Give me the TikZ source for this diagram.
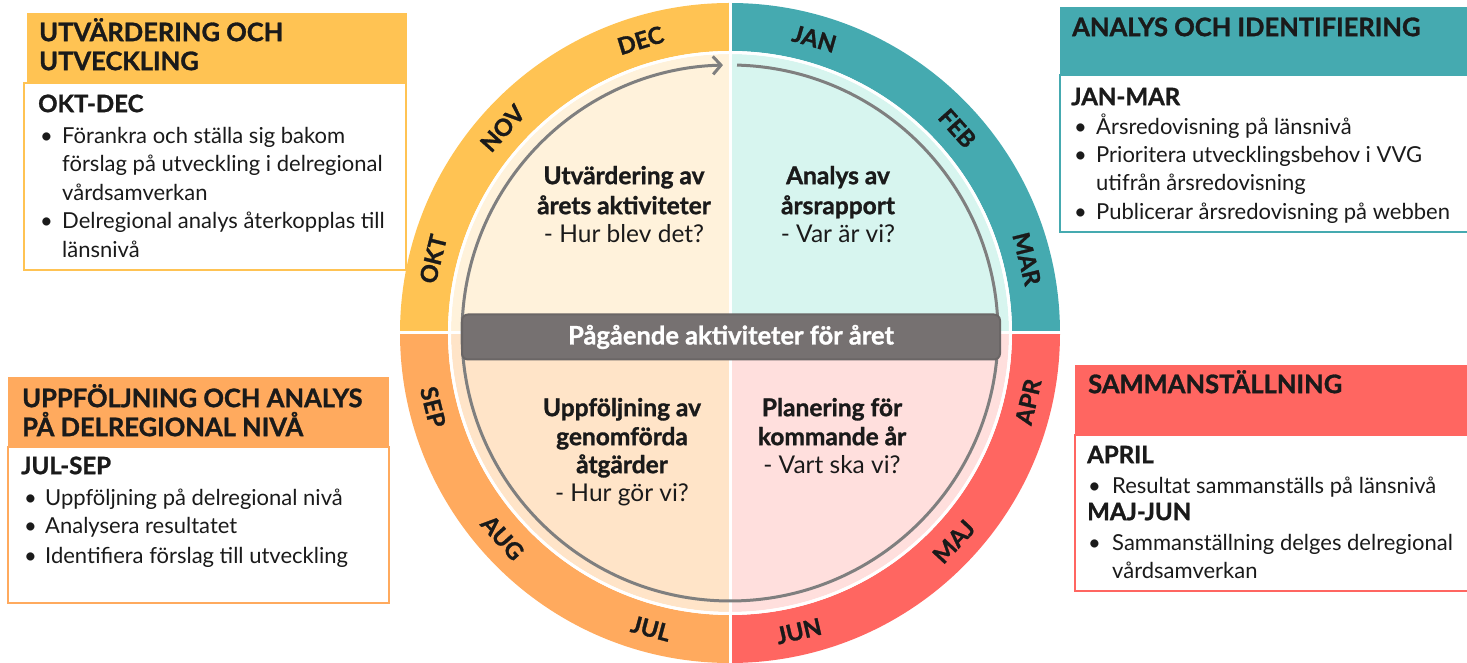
\documentclass[tikz,border=0pt]{standalone}
\usepackage{fontspec}
\setmainfont{Lato}
\newfontfamily\heavy{Lato}[BoldFeatures={FakeBold=1.2}]
\usetikzlibrary{arrows.meta,calc}
\definecolor{cYel}{HTML}{FFC353}
\definecolor{cTeal}{HTML}{45AAB0}
\definecolor{cRed}{HTML}{FF6661}
\definecolor{cOra}{HTML}{FFAA5E}
\definecolor{lYel}{HTML}{FFF2DB}
\definecolor{lTeal}{HTML}{D7F5EF}
\definecolor{lRed}{HTML}{FFDFDD}
\definecolor{lOra}{HTML}{FFE4C8}
\definecolor{cBar}{HTML}{767171}
\definecolor{cBarD}{HTML}{6A6666}
\definecolor{cArc}{HTML}{7F7F7F}
\definecolor{txt}{HTML}{1A1A1A}
\begin{document}
\begin{tikzpicture}[x=1pt,y=1pt,
  hd/.style={anchor=west,inner sep=0pt,yshift=-5pt,text=txt,font=\fontsize{25.5}{30}\heavy\bfseries,text height=1.5ex,text depth=0.25ex},
  sub/.style={anchor=west,inner sep=0pt,yshift=-5pt,text=txt,font=\fontsize{24}{28}\heavy\bfseries,text height=1.5ex,text depth=0.25ex},
  bt/.style={anchor=west,inner sep=0pt,yshift=-5pt,text=txt,font=\fontsize{22}{26}\selectfont,text height=1.5ex,text depth=0.25ex},
  qb/.style={inner sep=0pt,yshift=-5pt,text=txt,font=\fontsize{24.5}{29}\heavy\bfseries,text height=1.5ex,text depth=0.25ex},
  qr/.style={inner sep=0pt,yshift=-5pt,text=txt,font=\fontsize{24.5}{29}\selectfont,text height=1.5ex,text depth=0.25ex},
  month/.style={inner sep=0pt,text=txt,font=\fontsize{23.5}{28}\heavy\bfseries},
  bar/.style={fill=cBar,draw=cBarD,line width=2pt,rounded corners=6pt,minimum width=538pt,minimum height=45pt,text=white,font=\fontsize{25.5}{30}\heavy\bfseries},
  boxline/.style={line width=1.5pt}
]
\useasboundingbox (0,0) rectangle (1467,663);
\coordinate (C) at (730,330);

% outer ring
\foreach \a/\c in {90/cYel,0/cTeal,-90/cRed,180/cOra}{
  \fill[\c] ($(C)+(\a:330)$) arc[start angle=\a,end angle=\a+90,radius=330]
     -- ($(C)+({\a+90}:282)$) arc[start angle=\a+90,end angle=\a,radius=282] -- cycle;
}
% inner disk
\foreach \a/\c in {90/lYel,0/lTeal,-90/lRed,180/lOra}{
  \fill[\c] (C) -- ($(C)+(\a:279)$) arc[start angle=\a,end angle=\a+90,radius=279] -- cycle;
}
\draw[white,line width=3pt] (C) circle[radius=280.5];
\draw[white,line width=3pt] ($(C)+(0,-332)$) -- ($(C)+(0,332)$);
\draw[white,line width=3pt] ($(C)+(-332,0)$) -- ($(C)+(332,0)$);

% cycle arrow
\draw[cArc,line width=3pt,-{Straight Barb[length=8pt,width=18pt]}]
  ($(C)+(88.5:268)$) arc[start angle=88.5,end angle=-268.5,radius=268];

% bar
\node[bar] (bar) at (731,326) {Pågående aktiviteter för året};

% months
\foreach \n/\a in {JAN/74,FEB/42,MAR/14,OKT/166,NOV/138,DEC/107}{
  \node[month,rotate=\a-90] (m\n) at ($(C)+(\a:306)$) {\n};
}
\foreach \n/\a in {APR/-13,MAJ/-43,JUN/-77,JUL/-105,AUG/-138,SEP/-166}{
  \node[month,rotate=\a+90] (m\n) at ($(C)+(\a:306)$) {\n};
}

% quadrant texts
\node[qb] (q1a) at (624,487) {Utvärdering av};
\node[qb] (q1b) at (624,457) {årets aktiviteter};
\node[qr] (q1c) at (624,429) {- Hur blev det?};
\node[qb] (q2a) at (838,487) {Analys av};
\node[qb] (q2b) at (838,457) {årsrapport};
\node[qr] (q2c) at (838,429) {- Var är vi?};
\node[qb] (q3a) at (622,255) {Uppföljning av};
\node[qb] (q3b) at (622,226) {genomförda};
\node[qb] (q3c) at (622,198) {åtgärder};
\node[qr] (q3d) at (622,170) {- Hur gör vi?};
\node[qb] (q4a) at (832,255) {Planering för};
\node[qb] (q4b) at (832,226) {kommande år};
\node[qr] (q4c) at (832,198) {- Vart ska vi?};

% box 1 (top left)
\fill[cYel] (27,650) rectangle (407,580);
\draw[cYel,boxline] (24,580) rectangle (406,393);
\node[hd] (h1a) at (39,630) {UTVÄRDERING OCH};
\node[hd] (h1b) at (39,601) {UTVECKLING};
\node[sub] (s1) at (38,559) {OKT-DEC};
\node[bt] (d1a) at (40,528) {•}; \node[bt] (t1a) at (62,528) {Förankra och ställa sig bakom};
\node[bt] (t1b) at (62,500) {förslag på utveckling i delregional};
\node[bt] (t1c) at (62,471) {vårdsamverkan};
\node[bt] (d1d) at (40,443) {•}; \node[bt] (t1d) at (62,443) {Delregional analys återkopplas till};
\node[bt] (t1e) at (62,414) {länsnivå};

% box 2 (top right)
\fill[cTeal] (1060,656) rectangle (1470,588);
\draw[cTeal,boxline] (1060,588) rectangle (1470,431);
\node[hd] (h2a) at (1072,635) {ANALYS OCH IDENTIFIERING};
\node[sub] (s2) at (1071,566) {JAN-MAR};
\node[bt] (d2a) at (1074,537) {•}; \node[bt] (t2a) at (1096,537) {Årsredovisning på länsnivå};
\node[bt] (d2b) at (1074,509) {•}; \node[bt] (t2b) at (1096,509) {Prioritera utvecklingsbehov i VVG};
\node[bt] (t2c) at (1096,481) {utifrån årsredovisning};
\node[bt] (d2d) at (1074,452) {•}; \node[bt] (t2d) at (1096,452) {Publicerar årsredovisning på webben};

% box 3 (bottom left)
\fill[cOra] (8,286) rectangle (389,216);
\draw[cOra,boxline] (8,216) rectangle (389,60);
\node[hd] (h3a) at (22,264) {UPPFÖLJNING OCH ANALYS};
\node[hd] (h3b) at (22,235) {PÅ DELREGIONAL NIVÅ};
\node[sub] (s3) at (21,197) {JUL-SEP};
\node[bt] (d3a) at (24,166) {•}; \node[bt] (t3a) at (45,166) {Uppföljning på delregional nivå};
\node[bt] (d3b) at (24,138) {•}; \node[bt] (t3b) at (45,138) {Analysera resultatet};
\node[bt] (d3c) at (24,108) {•}; \node[bt] (t3c) at (45,108) {Identifiera förslag till utveckling};

% box 4 (bottom right)
\fill[cRed] (1075,298) rectangle (1470,228);
\draw[cRed,boxline] (1075,228) rectangle (1470,72);
\node[hd] (h4a) at (1088,278) {SAMMANSTÄLLNING};
\node[sub] (s4a) at (1087,208) {APRIL};
\node[bt] (d4a) at (1088,178) {•}; \node[bt] (t4a) at (1112,178) {Resultat sammanställs på länsnivå};
\node[sub] (s4b) at (1087,151) {MAJ-JUN};
\node[bt] (d4b) at (1088,121) {•}; \node[bt] (t4b) at (1112,121) {Sammanställning delges delregional};
\node[bt] (t4c) at (1112,93) {vårdsamverkan};
\end{tikzpicture}
\end{document}
